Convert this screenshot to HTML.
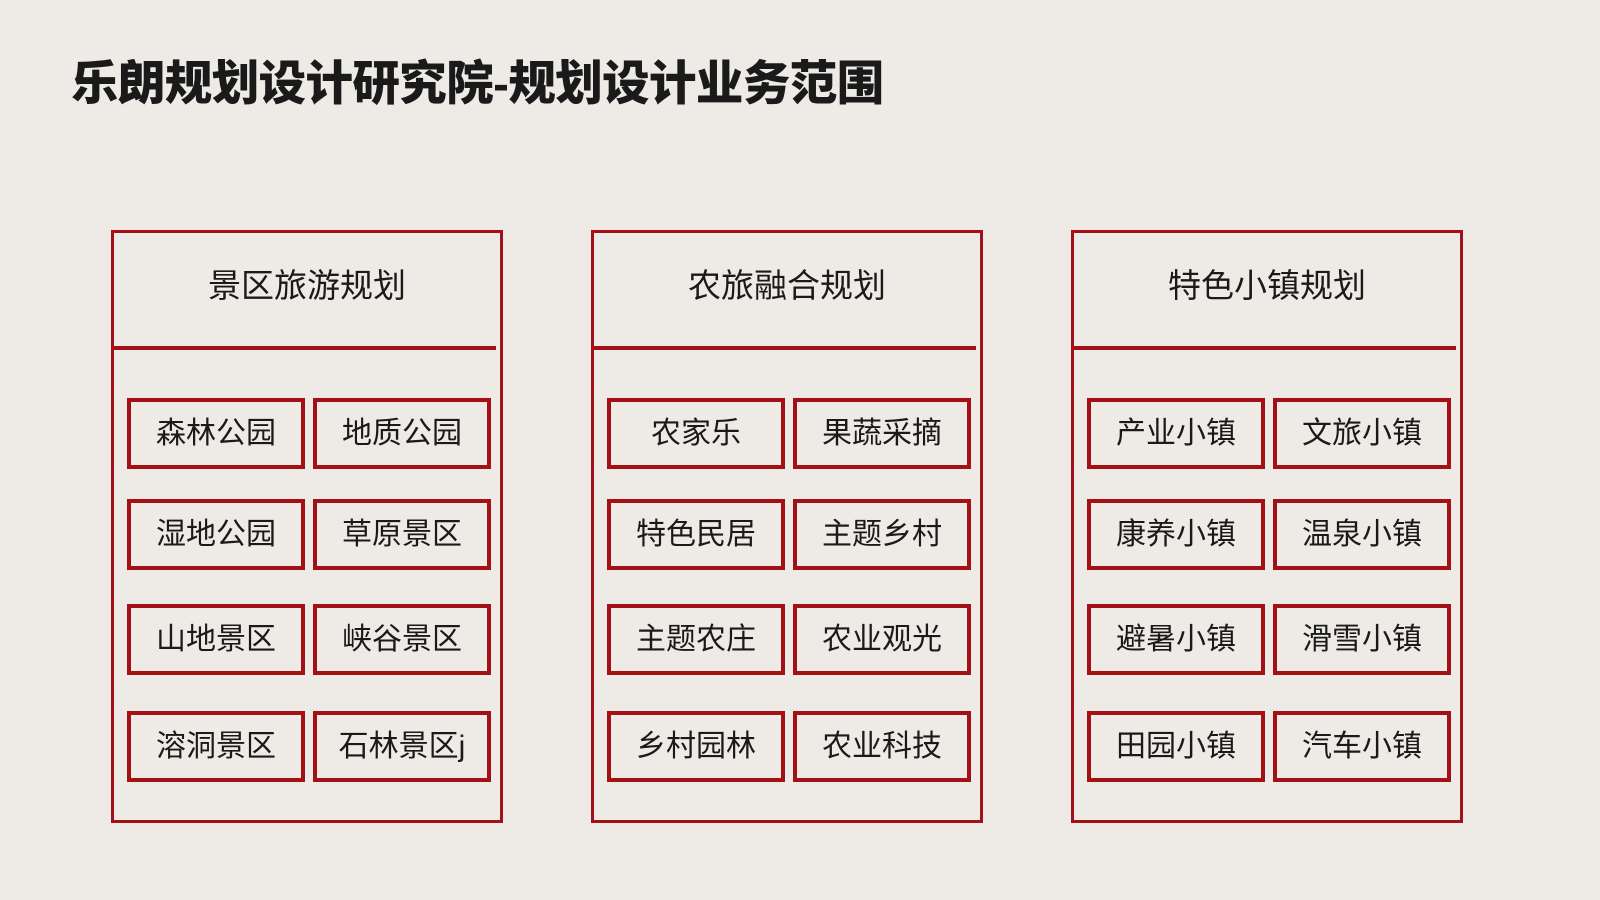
<!DOCTYPE html>
<html><head><meta charset="utf-8"><style>
body{margin:0;width:1600px;height:900px;background:#eeebe6;position:relative;overflow:hidden;font-family:"Liberation Sans","Noto Sans CJK SC",sans-serif;color:#1a1a1a}
.t{position:absolute;left:71px;top:56px;font-size:47.5px;font-weight:900;line-height:58px;white-space:nowrap;letter-spacing:-0.6px}
.p{position:absolute;top:230px;width:386px;height:587px;border:3px solid #a31015}
.hd{position:absolute;left:0;top:0;width:100%;height:113px;line-height:106px;text-align:center;font-size:33px}
.dv{position:absolute;left:0;top:113px;width:382px;height:4px;background:#a31015}
.b{position:absolute;width:170px;height:63px;border:4px solid #a31015;text-align:center;line-height:63px;font-size:30px}
</style></head><body>
<div class="t">乐朗规划设计研究院-规划设计业务范围</div>
<div class="p" style="left:111px">
<div class="hd">景区旅游规划</div><div class="dv"></div>
<div class="b" style="left:13px;top:165px">森林公园</div><div class="b" style="left:199px;top:165px">地质公园</div>
<div class="b" style="left:13px;top:266px">湿地公园</div><div class="b" style="left:199px;top:266px">草原景区</div>
<div class="b" style="left:13px;top:371px">山地景区</div><div class="b" style="left:199px;top:371px">峡谷景区</div>
<div class="b" style="left:13px;top:478px">溶洞景区</div><div class="b" style="left:199px;top:478px">石林景区j</div>
</div>
<div class="p" style="left:591px">
<div class="hd">农旅融合规划</div><div class="dv"></div>
<div class="b" style="left:13px;top:165px">农家乐</div><div class="b" style="left:199px;top:165px">果蔬采摘</div>
<div class="b" style="left:13px;top:266px">特色民居</div><div class="b" style="left:199px;top:266px">主题乡村</div>
<div class="b" style="left:13px;top:371px">主题农庄</div><div class="b" style="left:199px;top:371px">农业观光</div>
<div class="b" style="left:13px;top:478px">乡村园林</div><div class="b" style="left:199px;top:478px">农业科技</div>
</div>
<div class="p" style="left:1071px">
<div class="hd">特色小镇规划</div><div class="dv"></div>
<div class="b" style="left:13px;top:165px">产业小镇</div><div class="b" style="left:199px;top:165px">文旅小镇</div>
<div class="b" style="left:13px;top:266px">康养小镇</div><div class="b" style="left:199px;top:266px">温泉小镇</div>
<div class="b" style="left:13px;top:371px">避暑小镇</div><div class="b" style="left:199px;top:371px">滑雪小镇</div>
<div class="b" style="left:13px;top:478px">田园小镇</div><div class="b" style="left:199px;top:478px">汽车小镇</div>
</div>
</body></html>
